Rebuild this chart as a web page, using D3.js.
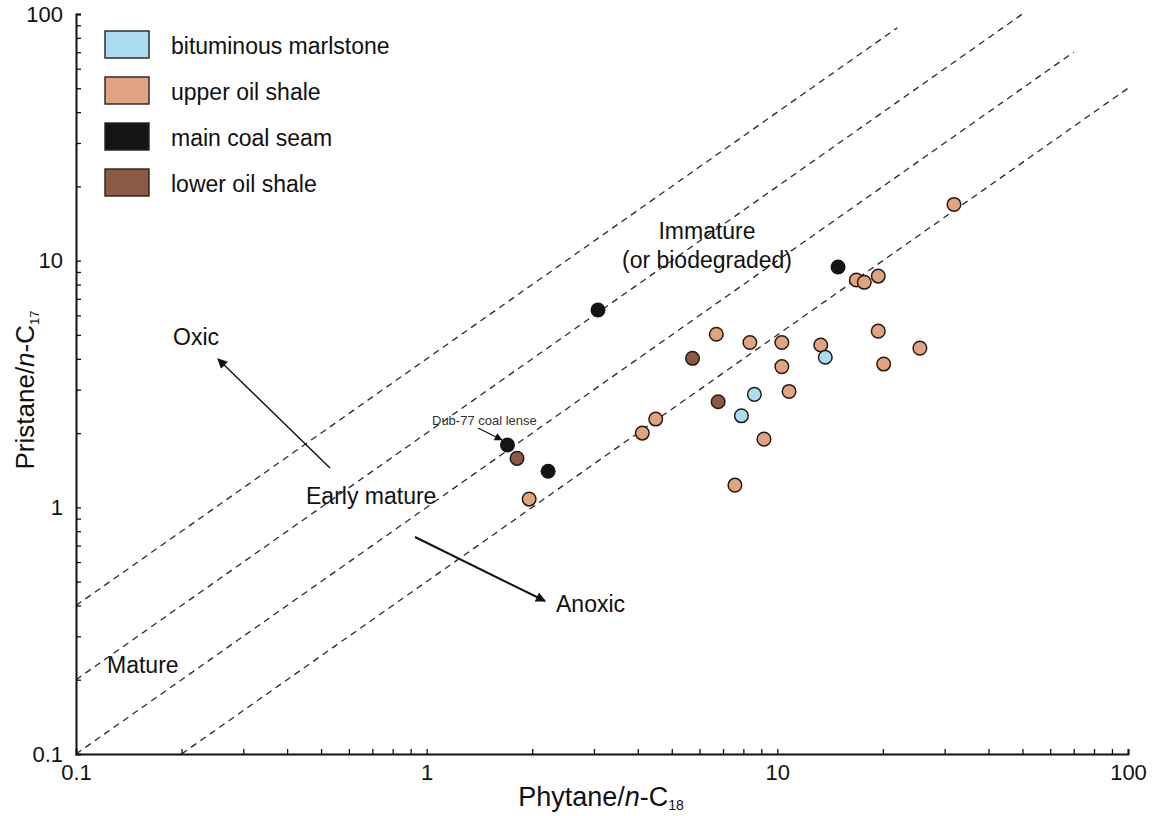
<!DOCTYPE html>
<html>
<head>
<meta charset="utf-8">
<script src="https://cdn.jsdelivr.net/npm/d3@7/dist/d3.min.js"></script>
<style>
  html, body { margin: 0; padding: 0; background: #fff; }
  svg { display: block; font-family: "Liberation Sans", Arial, sans-serif; }
</style>
</head>
<body>
<svg id="chart" width="1155" height="816"></svg>
<script>
// Pristane/n-C17 vs Phytane/n-C18 cross-plot (log-log)

const groups = ["bituminous marlstone", "upper oil shale", "main coal seam", "lower oil shale"];
const groupFill = ["#acdcf0", "#e0a482", "#141414", "#8c5a44"];

// [Phytane/n-C18, Pristane/n-C17]
const bituminousMarlstone = [[8.6, 2.87], [7.9, 2.35], [13.7, 4.06]];
const upperOilShale = [
  [1.96, 1.08], [4.12, 2.0], [4.5, 2.28], [6.7, 5.03], [8.35, 4.66], [10.3, 4.66],
  [13.3, 4.55], [10.3, 3.72], [10.8, 2.95], [9.16, 1.89], [7.57, 1.23],
  [16.8, 8.35], [17.7, 8.17], [19.4, 8.66], [19.4, 5.18], [20.1, 3.81],
  [25.5, 4.42], [31.9, 16.9]
];
const mainCoalSeam = [[3.08, 6.31], [14.9, 9.42], [1.7, 1.79], [2.22, 1.40]];
const lowerOilShale = [[1.81, 1.58], [5.73, 4.02], [6.78, 2.68]];

// Constant-ratio guide lines: Pr/n-C17 = ratio * Ph/n-C18, between xStart and xEnd
const guideRatio = [4, 2, 1, 0.5];
const guideXStart = [0.1, 0.1, 0.1, 0.2];
const guideXEnd = [22, 50, 70, 100];

const xTickValues = [0.1, 1, 10, 100];
const yTickValues = [0.1, 1, 10, 100];

const svg = d3.select("#chart");
const x = d3.scaleLog().domain([0.1, 100]).range([76, 1128]);
const y = d3.scaleLog().domain([0.1, 100]).range([754, 14]);

const minorTicks = (lo) => {
  const v = [];
  for (let d = lo; d < 100; d *= 10) for (let m = 1; m <= 10; m++) v.push(+(d * m).toPrecision(3));
  return Array.from(new Set(v)).filter(t => t > 0.1 && t <= 100);
};

// Guide lines
const guides = svg.append("g");
guideRatio.forEach((r, i) => {
  guides.append("line")
    .attr("x1", x(guideXStart[i])).attr("y1", y(guideXStart[i] * r))
    .attr("x2", x(guideXEnd[i])).attr("y2", y(guideXEnd[i] * r))
    .attr("stroke", "#2a2a2a").attr("stroke-width", 1.3)
    .attr("stroke-dasharray", "6.5,5");
});

// Axes
const xAxis = svg.append("g").attr("transform", "translate(0,754)")
  .call(d3.axisBottom(x).tickValues(minorTicks(0.1)).tickSize(-5).tickFormat(""));
const yAxis = svg.append("g").attr("transform", "translate(76,0)")
  .call(d3.axisLeft(y).tickValues(minorTicks(0.1)).tickSize(-5).tickFormat(""));
[xAxis, yAxis].forEach(a => {
  a.select(".domain").attr("stroke", "#111").attr("stroke-width", 2);
  a.selectAll(".tick line").attr("stroke", "#111").attr("stroke-width", 1.3);
});

const xLabels = svg.append("g").attr("transform", "translate(0,754)")
  .call(d3.axisBottom(x).tickValues(xTickValues).tickSize(0).tickPadding(10)
    .tickFormat(d => d3.format("~g")(d)));
xLabels.select(".domain").remove();
xLabels.selectAll("text").attr("font-size", 22).attr("fill", "#111")
  .attr("font-family", "Liberation Sans, Arial, sans-serif");

const yLabels = svg.append("g").attr("transform", "translate(76,0)")
  .call(d3.axisLeft(y).tickValues(yTickValues).tickSize(0).tickPadding(13)
    .tickFormat(d => d3.format("~g")(d)));
yLabels.select(".domain").remove();
yLabels.selectAll("text").attr("font-size", 22).attr("fill", "#111")
  .attr("font-family", "Liberation Sans, Arial, sans-serif");

// Axis titles
const xt = svg.append("text").attr("x", 601).attr("y", 806).attr("text-anchor", "middle")
  .attr("font-size", 27).attr("fill", "#111");
xt.append("tspan").text("Phytane/");
xt.append("tspan").attr("font-style", "italic").text("n");
xt.append("tspan").text("-C");
xt.append("tspan").attr("font-size", 14).attr("dy", 4).text("18");

const yt = svg.append("text").attr("transform", "translate(34,390) rotate(-90)")
  .attr("text-anchor", "middle").attr("font-size", 26).attr("fill", "#111");
yt.append("tspan").text("Pristane/");
yt.append("tspan").attr("font-style", "italic").text("n");
yt.append("tspan").text("-C");
yt.append("tspan").attr("font-size", 13).attr("dy", 5).text("17");

// Arrow markers
const defs = svg.append("defs");
defs.append("marker").attr("id", "head").attr("viewBox", "0 0 10 10")
  .attr("refX", 9).attr("refY", 5).attr("markerWidth", 10).attr("markerHeight", 8)
  .attr("markerUnits", "userSpaceOnUse").attr("orient", "auto")
  .append("path").attr("d", "M0,0 L10,5 L0,10 Z").attr("fill", "#111");
defs.append("marker").attr("id", "headBig").attr("viewBox", "0 0 10 10")
  .attr("refX", 9).attr("refY", 5).attr("markerWidth", 14).attr("markerHeight", 10)
  .attr("markerUnits", "userSpaceOnUse").attr("orient", "auto")
  .append("path").attr("d", "M0,0 L10,5 L0,10 Z").attr("fill", "#111");

// Field annotations
const note = (tx, ty, str, size, anchor) => svg.append("text").attr("x", tx).attr("y", ty)
  .attr("font-size", size).attr("fill", "#111").attr("text-anchor", anchor || "start").text(str);
note(707, 239, "Immature", 23, "middle");
note(707, 268, "(or biodegraded)", 23, "middle");
note(173, 345, "Oxic", 23);
note(306, 504, "Early mature", 23);
note(107, 673, "Mature", 23);
note(556, 612, "Anoxic", 23);
note(432, 425, "Dub-77 coal lense", 13).attr("fill", "#333");

svg.append("line").attr("x1", 330).attr("y1", 468).attr("x2", 218).attr("y2", 359)
  .attr("stroke", "#111").attr("stroke-width", 1.4).attr("marker-end", "url(#headBig)");
svg.append("line").attr("x1", 415).attr("y1", 537).attr("x2", 545).attr("y2", 601)
  .attr("stroke", "#111").attr("stroke-width", 2).attr("marker-end", "url(#headBig)");
svg.append("line").attr("x1", 478).attr("y1", 428).attr("x2", 502).attr("y2", 440)
  .attr("stroke", "#111").attr("stroke-width", 1.2).attr("marker-end", "url(#head)");

// Samples
const seriesData = [bituminousMarlstone, upperOilShale, mainCoalSeam, lowerOilShale];
const pointsLayer = svg.append("g");
[1, 3, 0, 2].forEach(gi => {
  pointsLayer.selectAll(null).data(seriesData[gi]).enter().append("circle")
    .attr("cx", d => x(d[0])).attr("cy", d => y(d[1]))
    .attr("r", gi === 2 ? 7.5 : 6.8)
    .attr("fill", groupFill[gi])
    .attr("stroke", gi === 2 ? "none" : "#2b1a12")
    .attr("stroke-width", 1.5);
});

// Legend
const legend = svg.append("g");
groups.forEach((g, i) => {
  const ly = 31 + i * 46;
  legend.append("rect").attr("x", 105).attr("y", ly).attr("width", 44).attr("height", 27)
    .attr("fill", groupFill[i]).attr("stroke", "#222").attr("stroke-width", 1.4);
  legend.append("text").attr("x", 171).attr("y", ly + 23).attr("font-size", 23)
    .attr("fill", "#111").text(g);
});
</script>
</body>
</html>
